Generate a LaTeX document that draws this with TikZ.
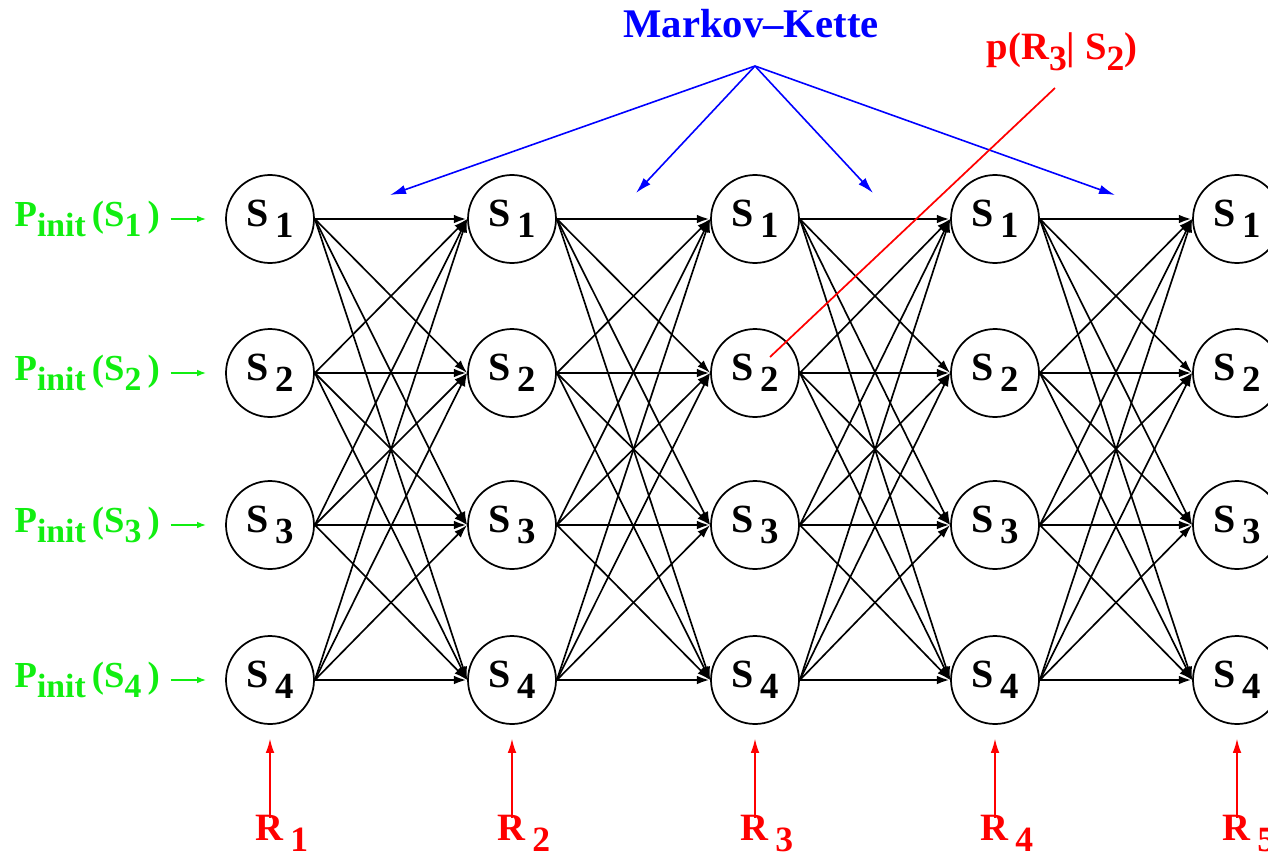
\documentclass[tikz,border=0pt]{standalone}
\usepackage{fontspec}
\usepackage{graphicx}
\setmainfont{Liberation Serif}[BoldFont={Liberation Serif Bold}]
\newfontfamily\tnrb{Liberation Serif Bold}
\usetikzlibrary{arrows.meta}
\newcommand\mysub[1]{\raisebox{-0.62ex}{\scalebox{0.92}{#1}}}
\definecolor{gr}{HTML}{11EE11}
\definecolor{bl}{HTML}{0000FF}
\definecolor{rd}{HTML}{FF0000}
\begin{document}
\begin{tikzpicture}[x=0.75pt,y=-0.75pt,
  state/.style={circle,draw,line width=1.3pt,minimum size=66pt,inner sep=0pt,
    font=\tnrb\fontsize{30}{32}\selectfont},
  edge/.style={line width=1.25pt,-{Latex[length=10pt,width=6.5pt]}},
  hedge/.style={line width=2pt,-{Latex[length=10pt,width=6.5pt]}},
  glabel/.style={text=gr,font=\tnrb\fontsize{27.5}{30}\selectfont,inner sep=0pt},
  garrow/.style={draw=gr,line width=1.8pt,-{Latex[length=7pt,width=5pt]}},
  rlabel/.style={text=rd,font=\tnrb\fontsize{29}{31}\selectfont,inner sep=0pt},
  rarrow/.style={draw=rd,line width=1.6pt,-{Latex[length=11pt,width=6.5pt]}},
  barrow/.style={draw=bl,line width=1.2pt,-{Latex[length=12pt,width=7pt]}}]
\useasboundingbox (0,0) rectangle (1268,864);
% states
\foreach \c/\x in {1/270,2/512,3/755,4/995,5/1237}{
  \foreach \i/\y in {1/219,2/373,3/525,4/680}{
    \node[state] (n\c\i) at (\x,\y) {S\,\mysub{\i}};
  }
}
% transitions
\foreach \c/\d in {1/2,2/3,3/4,4/5}{
  \foreach \i in {1,...,4}{
    \foreach \j in {1,...,4}{
      \ifnum\i=\j
        \draw[hedge] (n\c\i.east) -- (n\d\j.west);
      \else
        \draw[edge] (n\c\i.east) -- (n\d\j.west);
      \fi
    }
  }
}
% initial probabilities
\foreach \i/\y in {1/219,2/373,3/525,4/680}{
  \node[glabel,anchor=east] (p\i) at (160,\y) {P\mysub{init}\,(S\mysub{\i}\,)};
  \draw[garrow] ([xshift=8pt]p\i.east) -- ([xshift=-14pt]n1\i.west);
}
% observations
\foreach \c/\x in {1/270,2/512,3/755,4/995,5/1237}{
  \node[rlabel,anchor=north] (r\c) at (\x+12,815) {R\,\mysub{\c}};
  \draw[rarrow] ([xshift=-9pt,yshift=-2pt]r\c.north) -- ([yshift=-10pt]n\c4.south);
}
% Markov chain label
\node[text=bl,font=\tnrb\fontsize{30.5}{32}\selectfont,inner sep=0pt] (mk) at (751,24) {Markov–Kette};
\coordinate (apex) at (755,66);
\coordinate (b1) at (390,195);
\coordinate (b2) at (636,193);
\coordinate (b3) at (873,193);
\coordinate (b4) at (1115,195);
\foreach \k in {1,...,4}{ \draw[barrow] (apex) -- (b\k); }
% emission probability
\node[text=rd,font=\tnrb\fontsize{29}{31}\selectfont,inner sep=0pt] (pe) at (1062,52) {p(R\mysub{3}| S\mysub{2})};
\coordinate (pet) at (1055,88);
\coordinate (pes) at (770,357);
\draw[rd,line width=1.3pt] (pet) -- (pes);
\end{tikzpicture}
\end{document}
